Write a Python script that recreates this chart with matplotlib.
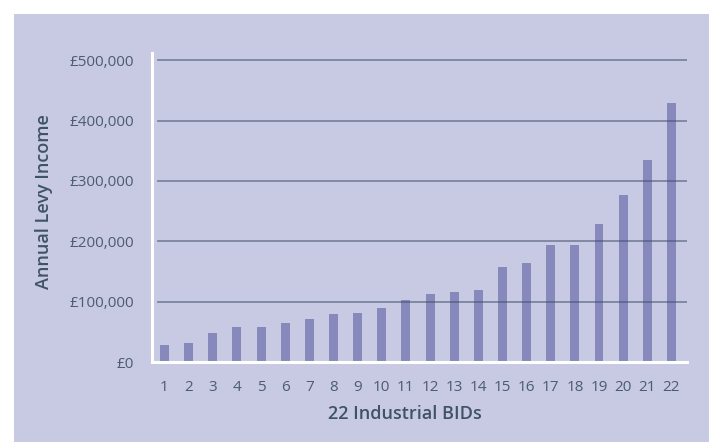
import matplotlib
matplotlib.use("Agg")
import matplotlib.pyplot as plt
from matplotlib.patches import Rectangle
from matplotlib.ticker import FuncFormatter

# ---------------------------------------------------------------------------
# Dados
# ---------------------------------------------------------------------------
bids = list(range(1, 23))
levy_income = [28000, 31000, 48000, 58000, 58000, 64000, 71000, 79000,
               81000, 89000, 102000, 112000, 116000, 119000, 157000, 164000,
               194000, 194000, 228000, 276000, 334000, 429000]
y_ticks = [0, 100000, 200000, 300000, 400000, 500000]

PANEL = "#c8c9e3"
BAR = "#8789bc"
TEXT = "#4b5d6e"
LABEL = "#3f5366"

plt.rcParams["font.family"] = ["Open Sans", "DejaVu Sans"]

fig = plt.figure(figsize=(7.09, 4.42), dpi=100, facecolor="white")
fig.patches.append(Rectangle((14 / 709, 0), 1, 1 - 14 / 442,
                             transform=fig.transFigure, facecolor=PANEL,
                             edgecolor="none", linewidth=0, zorder=-10))

ax = fig.add_axes([152 / 709, 1 - 362 / 442, 535 / 709, 309 / 442])
ax.set_facecolor("none")

ax.bar(bids, levy_income, width=0.37, color=BAR, zorder=2)

# linhas de grade por cima das barras, como no original
for y in y_ticks[1:]:
    ax.axhline(y, xmin=0.011, xmax=1, color="#3d4b66", alpha=0.55,
               linewidth=1.3, zorder=3)

ax.set_xlim(0.482, 22.645)
ax.set_ylim(0, 512000)
ax.set_xticks(bids)
ax.set_yticks(y_ticks)
ax.yaxis.set_major_formatter(FuncFormatter(lambda v, _: f"£{v:,.0f}"))

for side in ["top", "right"]:
    ax.spines[side].set_visible(False)
for side in ["left", "bottom"]:
    ax.spines[side].set_color("white")
    ax.spines[side].set_linewidth(2.2)
    ax.spines[side].set_zorder(4)

ax.tick_params(axis="both", length=0, labelsize=11, colors=TEXT)
ax.tick_params(axis="y", pad=13)
ax.tick_params(axis="x", pad=13)

ax.set_xlabel("22 Industrial BIDs", fontsize=13, fontweight="semibold",
              color=LABEL, va="center")
ax.xaxis.set_label_coords((405 - 152) / 535, (362 - 414) / 309)
ax.set_ylabel("Annual Levy Income", fontsize=13, fontweight="semibold",
              color=LABEL, va="center")
ax.yaxis.set_label_coords((44 - 152) / 535, (362 - 202) / 309)

fig.savefig("out.png", dpi=100)
